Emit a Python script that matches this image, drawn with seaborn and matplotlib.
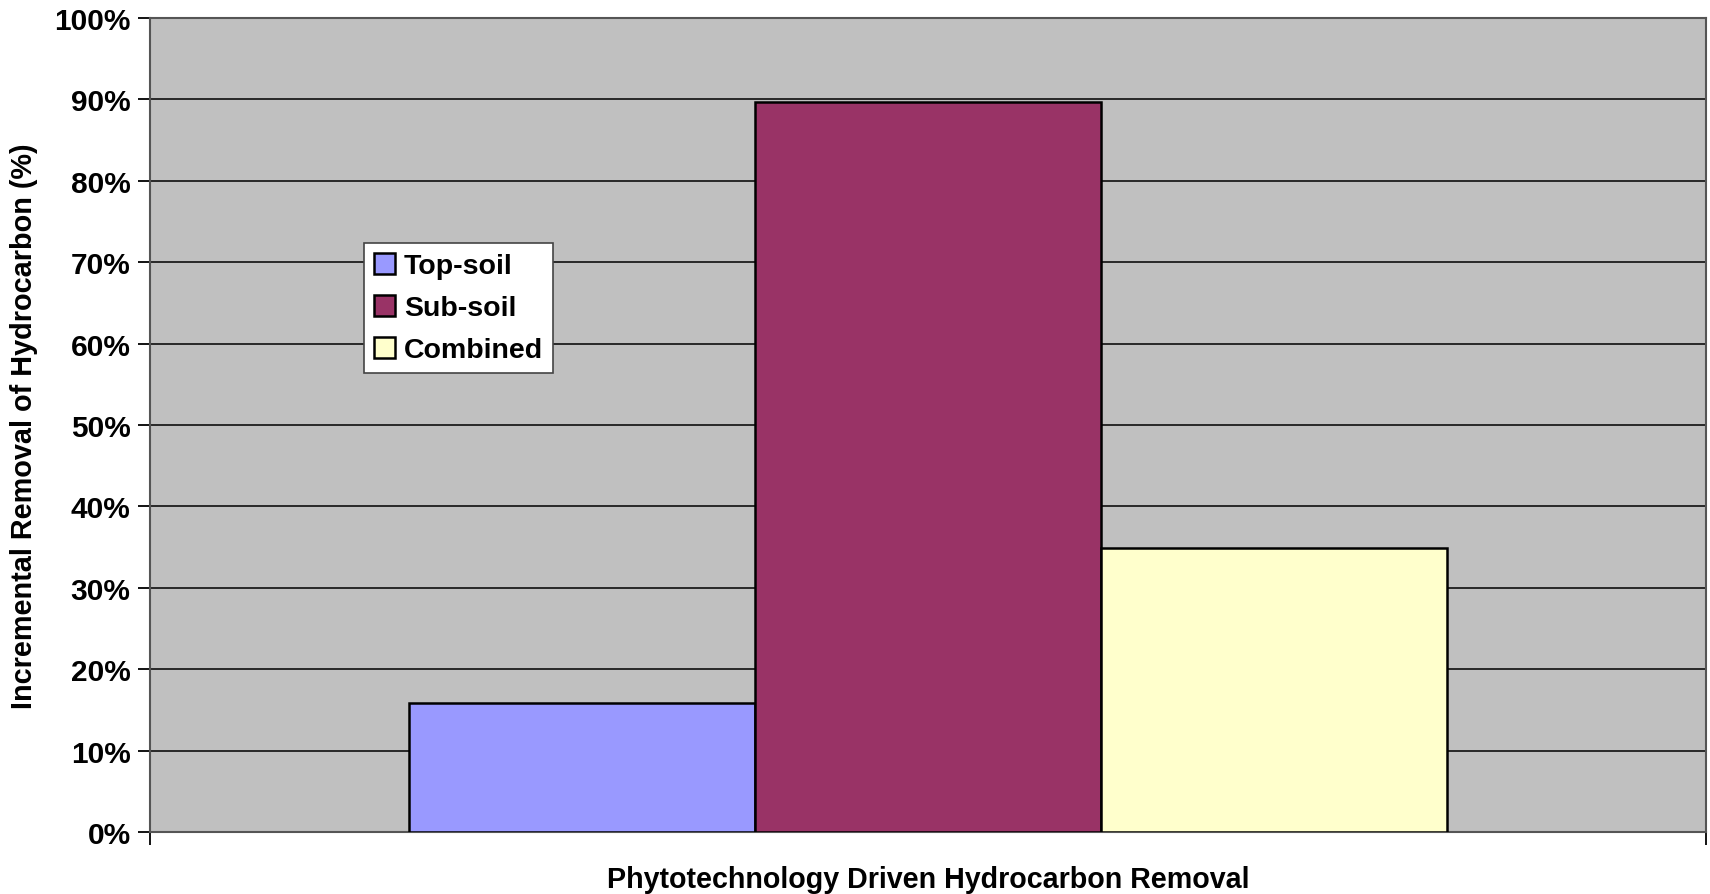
import pandas as pd
import numpy as np
import matplotlib
matplotlib.use("Agg")
import matplotlib.pyplot as plt
import seaborn as sns
from matplotlib.ticker import PercentFormatter

# values
soil_layers = ["Top-soil", "Sub-soil", "Combined"]
removal_pct = [15.85, 89.7, 34.85]
bar_colors = ["#9999FF", "#993366", "#FFFFCC"]
y_ticks = [0, 10, 20, 30, 40, 50, 60, 70, 80, 90, 100]

df = pd.DataFrame({
    "group": ["Phytotechnology Driven Hydrocarbon Removal"] * len(soil_layers),
    "layer": soil_layers,
    "removal": removal_pct,
})

sns.set_theme(style="white")
plt.rcParams["font.family"] = ["Liberation Sans", "DejaVu Sans"]
plt.rcParams["font.weight"] = "bold"
plt.rcParams["text.color"] = "black"
plt.rcParams["axes.labelcolor"] = "black"
plt.rcParams["xtick.color"] = "black"
plt.rcParams["ytick.color"] = "black"

fig = plt.figure(figsize=(17.1, 8.95), dpi=100)
ax = fig.add_axes([150 / 1710, 1 - 833 / 895, 1556 / 1710, 814 / 895])
ax.set_facecolor("#C0C0C0")

sns.barplot(data=df, x="group", y="removal", hue="layer", hue_order=soil_layers,
            palette=bar_colors, width=0.667, saturation=1, edgecolor="black",
            linewidth=1.8, ax=ax, zorder=3)

ax.set_xlim(-0.5, 0.5)
ax.set_ylim(0, 100)
ax.set_yticks(y_ticks)
ax.yaxis.set_major_formatter(PercentFormatter(decimals=0))
ax.set_xticks([-0.5, 0.5])
ax.set_xticklabels(["", ""])
ax.grid(axis="y", color="black", linewidth=1.1, zorder=0)
ax.set_axisbelow(True)
for s in ax.spines.values():
    s.set_color("#555555")
    s.set_linewidth(1.5)
ax.tick_params(axis="both", direction="out", length=9, width=1.3, color="black",
               labelsize=21.5, left=True, bottom=True, pad=5)
for lbl in ax.get_yticklabels():
    lbl.set_fontweight("bold")

ax.set_xlabel("Phytotechnology Driven Hydrocarbon Removal", fontsize=20.6,
              fontweight="bold", labelpad=10)
ax.set_ylabel("Incremental Removal of Hydrocarbon (%)", fontsize=20.8,
              fontweight="bold", labelpad=12)

leg = ax.legend(loc="upper left", bbox_to_anchor=(0.1375, 0.7236), fontsize=20.5,
                frameon=True, fancybox=False, framealpha=1, edgecolor="#444444",
                handlelength=0.75, handleheight=0.75, handletextpad=0.3,
                labelspacing=0.55, borderpad=0.35, borderaxespad=0)
leg.get_frame().set_linewidth(1.2)
for t in leg.get_texts():
    t.set_fontweight("bold")
for h in leg.legend_handles:
    h.set_edgecolor("black")
    h.set_linewidth(1.8)

fig.savefig("out.png", dpi=100)
